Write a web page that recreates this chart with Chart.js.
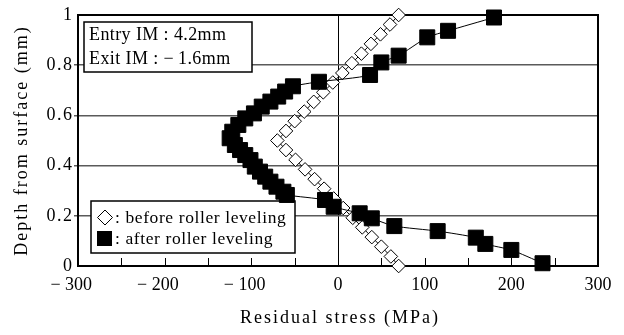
<!DOCTYPE html>
<html>
<head>
<meta charset="utf-8">
<script src="https://cdn.jsdelivr.net/npm/chart.js@4.4.1/dist/chart.umd.min.js"></script>
<style>
  html, body { margin: 0; padding: 0; background: #fff; }
</style>
</head>
<body>
<canvas id="myChart" width="624" height="335"></canvas>
<script>
// residual stress profiles
const beforeDepth = [0, 0.038, 0.077, 0.115, 0.154, 0.192, 0.231, 0.269, 0.308, 0.346, 0.385, 0.423, 0.462, 0.5,
                     0.538, 0.577, 0.615, 0.654, 0.692, 0.731, 0.769, 0.808, 0.846, 0.885, 0.923, 0.962, 1.0];
const beforeStress = [70, 61, 50, 39, 28, 17, 6, -5, -16, -27, -38, -49, -60, -70,
                      -60, -50, -39, -28, -17, -6, 5, 16, 27, 38, 49, 60, 70];

const afterDepth = [0.99, 0.937, 0.911, 0.838, 0.811, 0.761, 0.734, 0.716, 0.695, 0.675, 0.655, 0.635, 0.608,
                    0.588, 0.562, 0.535, 0.509, 0.482, 0.462, 0.442, 0.422, 0.396, 0.376, 0.356, 0.336, 0.316,
                    0.296, 0.283, 0.263, 0.236, 0.21, 0.19, 0.159, 0.139, 0.113, 0.088, 0.064, 0.011];
const afterStress = [180, 127, 103, 70, 50, 37, -22, -52, -61, -69, -78, -88, -97,
                     -107, -115, -122, -125, -119, -113, -107, -101, -96, -90, -84, -78, -71,
                     -63, -59, -15, -5, 25, 39, 65, 115, 159, 170, 200, 236];

// trailing spaces keep the digits of the negative labels centred on the tick, as in the original
const xLabels = { '-300': '\u2212 300\u2002 ', '-200': '\u2212 200\u2002 ', '-100': '\u2212 100\u2002 ',
                  '0': '0', '100': '100', '200': '200', '300': '300' };
const yLabels = { '0': '0', '0.2': '0\u200A.\u200A2', '0.4': '0\u200A.\u200A4', '0.6': '0\u200A.\u200A6',
                  '0.8': '0\u200A.\u200A8', '1': '1' };

const noteLines = ['Entry IM : 4.2mm', 'Exit IM : \u2212\u20091.6mm'];
const legendLabels = [': before roller leveling', ': after roller leveling'];
const xTitle = 'Residual stress (MPa)';
const yTitle = 'Depth from surface (mm)';

const serif = "'Liberation Serif', 'DejaVu Serif', serif";

function toPoints(xs, ys) {
  return xs.map((v, i) => ({ x: v, y: ys[i] }));
}

// box, inner ticks, note, legend and axis titles
const decorations = {
  id: 'decorations',
  beforeDatasetsDraw(chart) {
    const { ctx, chartArea: a, scales: { x } } = chart;
    ctx.save();

    // inward ticks on the bottom axis every 50 MPa
    ctx.strokeStyle = '#000';
    ctx.lineWidth = 1;
    x.ticks.forEach(t => {
      if (t.value <= -300 || t.value >= 300) return;
      const px = Math.round(x.getPixelForValue(t.value)) + 0.5;
      ctx.beginPath();
      ctx.moveTo(px, a.bottom);
      ctx.lineTo(px, a.bottom - 8);
      ctx.stroke();
    });

    // frame
    ctx.lineWidth = 2;
    ctx.strokeRect(a.left, a.top, a.right - a.left, a.bottom - a.top);

    // note box
    ctx.fillStyle = '#fff';
    ctx.fillRect(84, 22, 168, 50);
    ctx.lineWidth = 1.5;
    ctx.strokeRect(84, 22, 168, 50);
    ctx.fillStyle = '#000';
    ctx.font = '18px ' + serif;
    ctx.letterSpacing = '0.4px';
    ctx.textBaseline = 'middle';
    ctx.textAlign = 'left';
    ctx.fillText(noteLines[0], 89, 35);
    ctx.fillText(noteLines[1], 89, 59);

    // legend box
    ctx.fillStyle = '#fff';
    ctx.fillRect(91, 201, 204, 52);
    ctx.strokeRect(91, 201, 204, 52);
    // diamond
    ctx.lineWidth = 1;
    ctx.beginPath();
    ctx.moveTo(105, 210);
    ctx.lineTo(112.5, 217.5);
    ctx.lineTo(105, 225);
    ctx.lineTo(97.5, 217.5);
    ctx.closePath();
    ctx.stroke();
    // square
    ctx.fillStyle = '#000';
    ctx.fillRect(97, 231, 15, 15);
    ctx.font = '17.5px ' + serif;
    ctx.letterSpacing = '0.6px';
    ctx.fillText(legendLabels[0], 115, 218);
    ctx.fillText(legendLabels[1], 115, 239);

    ctx.restore();
  },
  afterDraw(chart) {
    const { ctx, chartArea: a } = chart;
    ctx.save();
    ctx.fillStyle = '#000';
    ctx.font = '18px ' + serif;
    ctx.letterSpacing = '2px';
    ctx.textAlign = 'center';
    ctx.textBaseline = 'middle';
    ctx.fillText(xTitle, (a.left + a.right) / 2 + 2, 318);
    ctx.translate(22, (a.top + a.bottom) / 2);
    ctx.rotate(-Math.PI / 2);
    ctx.fillText(yTitle, 0, 0);
    ctx.restore();
  }
};

const ctx = document.getElementById('myChart').getContext('2d');
const myChart = new Chart(ctx, {
  type: 'line',
  data: {
    datasets: [{
      label: 'after roller leveling',
      data: toPoints(afterStress, afterDepth),
      borderColor: '#000',
      borderWidth: 1,
      backgroundColor: '#000',
      pointStyle: 'rect',
      pointRadius: 10.6,
      pointBorderWidth: 1,
      pointBackgroundColor: '#000',
      pointBorderColor: '#000',
      tension: 0.2,
      fill: false,
      clip: false
    }, {
      label: 'before roller leveling',
      data: toPoints(beforeStress, beforeDepth),
      borderColor: '#000',
      borderWidth: 1,
      pointStyle: 'rectRot',
      pointRadius: 6.8,
      pointBorderWidth: 1,
      pointBackgroundColor: '#fff',
      pointBorderColor: '#000',
      tension: 0,
      fill: false,
      clip: false
    }]
  },
  options: {
    responsive: false,
    animation: false,
    events: [],
    layout: { padding: { top: 15, right: 26, left: 0, bottom: 0 } },
    plugins: {
      legend: { display: false },
      tooltip: { enabled: false }
    },
    scales: {
      x: {
        type: 'linear',
        position: 'bottom',
        min: -300,
        max: 300,
        afterFit: s => { s.height = 69; },
        ticks: {
          stepSize: 50,
          autoSkip: false,
          maxRotation: 0,
          padding: 8,
          color: '#000',
          font: { family: serif, size: 18 },
          callback: v => xLabels[String(v)] !== undefined ? xLabels[String(v)] : ''
        },
        grid: {
          drawTicks: false,
          color: c => (c.tick && c.tick.value === 0) ? '#000' : 'rgba(0,0,0,0)',
          lineWidth: 1
        },
        border: { display: true, color: '#000', width: 2 }
      },
      y: {
        type: 'linear',
        position: 'left',
        min: 0,
        max: 1,
        afterFit: s => { s.width = 78; },
        ticks: {
          stepSize: 0.2,
          padding: 2,
          color: '#000',
          font: { family: serif, size: 18 },
          callback: v => yLabels[String(Math.round(v * 10) / 10)]
        },
        grid: {
          tickLength: 4,
          color: c => (c.tick && (c.tick.value === 0 || c.tick.value === 1)) ? 'rgba(0,0,0,0)' : '#5a5a5a',
          lineWidth: 1.5
        },
        border: { display: true, color: '#000', width: 2 }
      }
    }
  },
  plugins: [decorations]
});
</script>
</body>
</html>
